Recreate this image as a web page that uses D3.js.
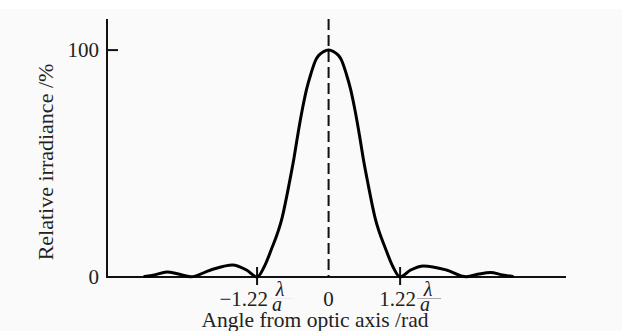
<!DOCTYPE html>
<html>
<head>
<meta charset="utf-8">
<script src="https://cdn.jsdelivr.net/npm/d3@7"></script>
<style>
  body { margin: 0; background: #fff; }
  svg { display: block; }
  text { font-family: "Liberation Serif", "DejaVu Serif", serif; fill: #222; }
</style>
</head>
<body>
<svg id="chart" width="622" height="331"></svg>
<script>
// angle in units of lambda/a, irradiance in %
var angle = [-3.14, -2.97, -2.76, -2.56, -2.35, -2.01, -1.64, -1.40, -1.22, -1.10,
  -0.98, -0.79, -0.67, -0.59, -0.54, -0.44, -0.375, -0.30, -0.22, -0.17, -0.085, 0,
  0.085, 0.17, 0.22, 0.30, 0.375, 0.44, 0.54, 0.59, 0.67, 0.79, 0.98, 1.10,
  1.22, 1.40, 1.62, 2.01, 2.35, 2.56, 2.76, 2.97, 3.14];
var irradiance = [0.2, 0.9, 2.2, 1.3, 0.1, 3.1, 5.3, 3.1, 0, 4.4,
  11.9, 26.4, 41.4, 52.4, 60.4, 74.9, 82.8, 89.7, 95.6, 97.6, 99.3, 100,
  99.3, 97.6, 95.6, 89.7, 82.8, 74.9, 60.4, 52.4, 41.4, 26.4, 11.9, 4.4,
  0, 3.1, 4.9, 3.1, 0.1, 1.3, 2.0, 0.9, 0.2];
var yTicks = [0, 100];
var xTicks = [-1.22, 0, 1.22];
var xTickLabels = ['\u22121.22', '0', '1.22'];

var svg = d3.select('#chart');

svg.append('rect')
  .attr('x', 0).attr('y', 9)
  .attr('width', 622).attr('height', 322)
  .style('fill', '#fafafa');

var x = d3.scaleLinear().domain([-3.78, 4.05]).range([107, 566]);
var y = d3.scaleLinear().domain([0, 113.7]).range([277, 19]);

// axes
svg.append('line')
  .attr('x1', x(-3.78)).attr('y1', y(0))
  .attr('x2', x(4.05)).attr('y2', y(0))
  .attr('stroke', '#111').attr('stroke-width', 2);
svg.append('line')
  .attr('x1', x(-3.78)).attr('y1', y(0) + 1)
  .attr('x2', x(-3.78)).attr('y2', y(113.7))
  .attr('stroke', '#111').attr('stroke-width', 2);

// y ticks
svg.selectAll('.ytick')
  .data(yTicks.filter(function(d){ return d > 0; }))
  .enter().append('line')
  .attr('x1', x(-3.78)).attr('x2', x(-3.78) + 11)
  .attr('y1', function(d){ return y(d); })
  .attr('y2', function(d){ return y(d); })
  .attr('stroke', '#111').attr('stroke-width', 2);
svg.selectAll('.ylab')
  .data(yTicks)
  .enter().append('text')
  .attr('x', x(-3.78) - 8)
  .attr('y', function(d){ return y(d) + 7; })
  .attr('text-anchor', 'end')
  .style('font-size', '21px')
  .text(function(d){ return d; });

// dashed centre line
svg.append('line')
  .attr('x1', x(0)).attr('x2', x(0))
  .attr('y1', y(113.7)).attr('y2', y(0))
  .attr('stroke', '#111').attr('stroke-width', 2)
  .attr('stroke-dasharray', '11,5');

// x ticks at +-1.22
svg.selectAll('.xtick')
  .data(xTicks.filter(function(d){ return d !== 0; }))
  .enter().append('line')
  .attr('x1', function(d){ return x(d); })
  .attr('x2', function(d){ return x(d); })
  .attr('y1', y(0) - 10).attr('y2', y(0) + 8)
  .attr('stroke', '#111').attr('stroke-width', 2);

// curve
var line = d3.line()
  .x(function(d){ return x(d[0]); })
  .y(function(d){ return y(d[1]); })
  .curve(d3.curveMonotoneX);
svg.append('path')
  .datum(d3.zip(angle, irradiance))
  .attr('d', line)
  .style('fill', 'none')
  .style('stroke', '#000')
  .style('stroke-width', 3)
  .style('stroke-linejoin', 'round')
  .style('stroke-linecap', 'round');

// x tick labels
var numEnd = [11, 0, 16];
xTicks.forEach(function(t, i) {
  var tx = x(t);
  if (t === 0) {
    svg.append('text')
      .attr('x', tx).attr('y', 306)
      .attr('text-anchor', 'middle')
      .style('font-size', '21px')
      .text(xTickLabels[i]);
    return;
  }
  var ex = tx + numEnd[i];
  svg.append('text')
    .attr('x', ex).attr('y', 306)
    .attr('text-anchor', 'end')
    .style('font-size', '21px')
    .text(xTickLabels[i]);
  svg.append('line')
    .attr('x1', ex + 1).attr('x2', ex + 25)
    .attr('y1', 298.5).attr('y2', 298.5)
    .attr('stroke', i === 2 ? '#aaa' : '#eee')
    .attr('stroke-width', 1);
  svg.append('text')
    .attr('x', ex + 12).attr('y', 296)
    .attr('text-anchor', 'middle')
    .style('font-size', '20px')
    .style('font-style', 'italic')
    .text('\u03bb');
  svg.append('text')
    .attr('x', ex + 9).attr('y', 311)
    .attr('text-anchor', 'middle')
    .style('font-size', '20px')
    .style('font-style', 'italic')
    .text('a');
});

// axis titles
svg.append('text')
  .attr('x', 315).attr('y', 327)
  .attr('text-anchor', 'middle')
  .style('font-size', '21.5px')
  .text('Angle from optic axis /rad');
svg.append('text')
  .attr('transform', 'translate(53,162) rotate(-90)')
  .attr('text-anchor', 'middle')
  .style('font-size', '22px')
  .text('Relative irradiance /%');
</script>
</body>
</html>
